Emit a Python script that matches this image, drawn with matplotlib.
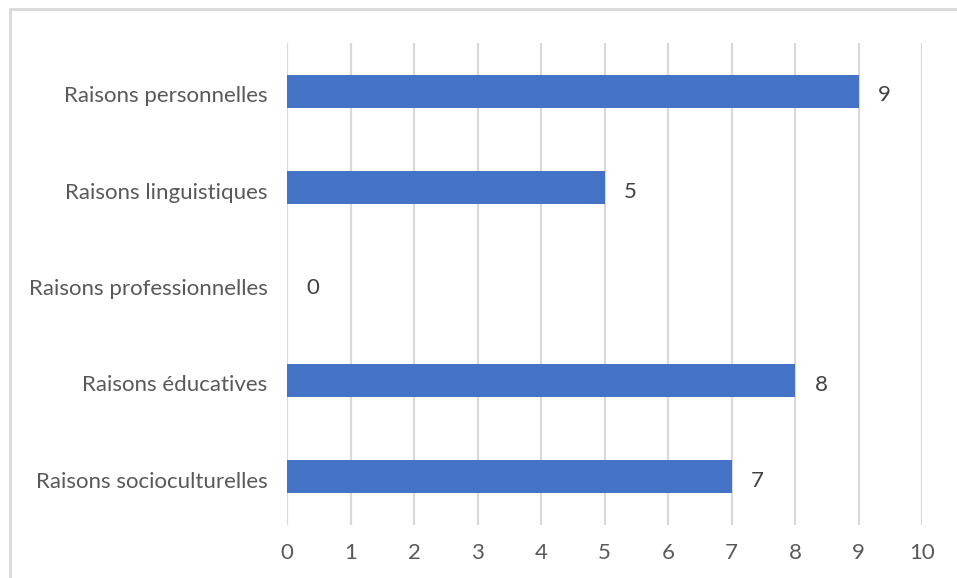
import matplotlib
matplotlib.use("Agg")
import matplotlib.pyplot as plt
import matplotlib.transforms as mtrans
from matplotlib.patches import Rectangle

categories = ["Raisons socioculturelles", "Raisons éducatives", "Raisons professionnelles",
              "Raisons linguistiques", "Raisons personnelles"]
values = [7, 8, 0, 5, 9]
xticks = list(range(0, 11))

plt.rcParams['font.family'] = ['Lato', 'DejaVu Sans']
W, H = 957, 578
fig = plt.figure(figsize=(W/100, H/100), dpi=100)
ax = fig.add_axes([287/W, 1-525/H, (922-287)/W, (525-43)/H])

pos = list(range(len(categories)))
ax.barh(pos, values, height=0.34, color="#4472C4", zorder=3)
for p, v in zip(pos, values):
    ax.annotate(str(v), xy=(v, p), xytext=(14, -3), textcoords="offset points",
                va="center", ha="left", fontsize=16, color="#404040")

ax.set_xlim(0, 10)
ax.set_ylim(-0.5, 4.5)
ax.set_xticks(xticks)
ax.set_yticks(pos)
ax.set_yticklabels(categories)
ax.tick_params(axis='both', length=0, labelsize=16, labelcolor="#595959")
ax.tick_params(axis='x', pad=13)
ax.tick_params(axis='y', pad=14)
ax.xaxis.grid(True, color="#d9d9d9", linewidth=1.6, zorder=0)
ax.set_axisbelow(True)
for s in ax.spines.values():
    s.set_visible(False)

shift = mtrans.ScaledTranslation(0, -3/100, fig.dpi_scale_trans)
for lab in ax.get_yticklabels():
    lab.set_transform(lab.get_transform() + shift)

fig.patches.append(Rectangle((10/W, -0.1), 1.5, 1.1-9/H, transform=fig.transFigure,
                             fill=False, edgecolor="#d9d9d9", linewidth=2))

fig.savefig("out.png", dpi=100)
